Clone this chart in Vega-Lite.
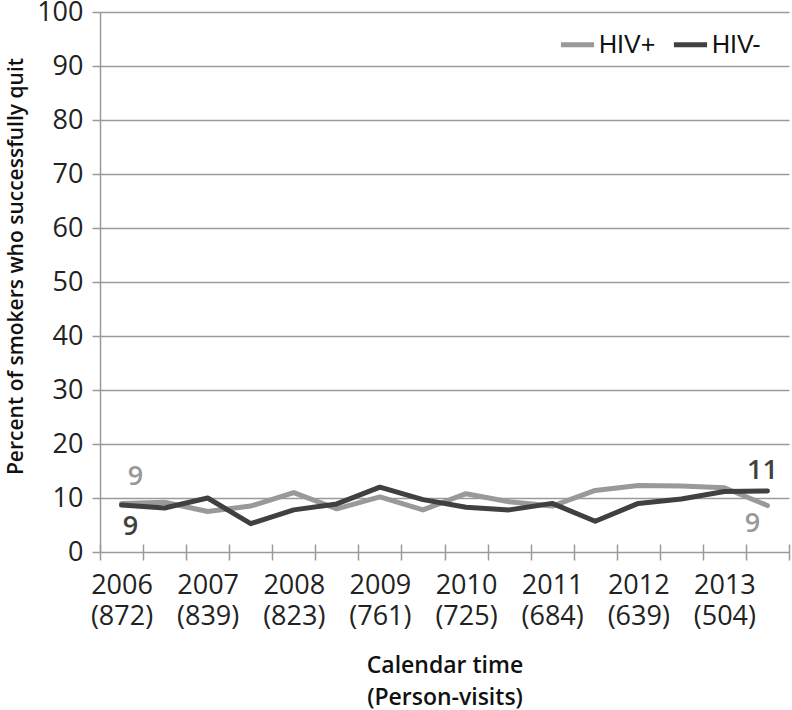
{
  "$schema": "https://vega.github.io/schema/vega-lite/v6.json",
  "width": 689,
  "height": 540,
  "autosize": {"type": "none"},
  "padding": {"left": 100, "top": 12, "right": 3, "bottom": 158},
  "background": "white",
  "config": {"view": {"stroke": null}, "font": "Open Sans"},
  "data": {
    "values": [
      {"time": 2006.25, "group": "HIV+", "pct": 9.0},
      {"time": 2006.75, "group": "HIV+", "pct": 9.2},
      {"time": 2007.25, "group": "HIV+", "pct": 7.5},
      {"time": 2007.75, "group": "HIV+", "pct": 8.5},
      {"time": 2008.25, "group": "HIV+", "pct": 11.0},
      {"time": 2008.75, "group": "HIV+", "pct": 8.0},
      {"time": 2009.25, "group": "HIV+", "pct": 10.2},
      {"time": 2009.75, "group": "HIV+", "pct": 7.8},
      {"time": 2010.25, "group": "HIV+", "pct": 10.8},
      {"time": 2010.75, "group": "HIV+", "pct": 9.3},
      {"time": 2011.25, "group": "HIV+", "pct": 8.5},
      {"time": 2011.75, "group": "HIV+", "pct": 11.4},
      {"time": 2012.25, "group": "HIV+", "pct": 12.3},
      {"time": 2012.75, "group": "HIV+", "pct": 12.2},
      {"time": 2013.25, "group": "HIV+", "pct": 11.9},
      {"time": 2013.75, "group": "HIV+", "pct": 8.6},
      {"time": 2006.25, "group": "HIV-", "pct": 8.7},
      {"time": 2006.75, "group": "HIV-", "pct": 8.15},
      {"time": 2007.25, "group": "HIV-", "pct": 10.0},
      {"time": 2007.75, "group": "HIV-", "pct": 5.25},
      {"time": 2008.25, "group": "HIV-", "pct": 7.8},
      {"time": 2008.75, "group": "HIV-", "pct": 8.9},
      {"time": 2009.25, "group": "HIV-", "pct": 12.0},
      {"time": 2009.75, "group": "HIV-", "pct": 9.7},
      {"time": 2010.25, "group": "HIV-", "pct": 8.3},
      {"time": 2010.75, "group": "HIV-", "pct": 7.8},
      {"time": 2011.25, "group": "HIV-", "pct": 9.0},
      {"time": 2011.75, "group": "HIV-", "pct": 5.7},
      {"time": 2012.25, "group": "HIV-", "pct": 9.0},
      {"time": 2012.75, "group": "HIV-", "pct": 9.8},
      {"time": 2013.25, "group": "HIV-", "pct": 11.2},
      {"time": 2013.75, "group": "HIV-", "pct": 11.3}
    ]
  },
  "resolve": {"axis": {"x": "independent", "y": "independent"}},
  "layer": [
    {
      "mark": {"type": "line", "strokeWidth": 5, "strokeCap": "round", "strokeJoin": "round"},
      "encoding": {
        "x": {
          "field": "time", "type": "quantitative",
          "scale": {"domain": [2006, 2014], "nice": false, "zero": false},
          "axis": {
            "orient": "bottom",
            "values": [2006, 2006.5, 2007, 2007.5, 2008, 2008.5, 2009, 2009.5, 2010, 2010.5, 2011, 2011.5, 2012, 2012.5, 2013, 2013.5, 2014],
            "labels": false, "domain": false, "grid": false, "title": null,
            "tickSize": 16, "offset": -8, "tickColor": "#9a9a9a", "tickWidth": 1.5
          }
        },
        "y": {
          "field": "pct", "type": "quantitative",
          "scale": {"domain": [0, 100], "nice": false},
          "axis": {
            "values": [0, 10, 20, 30, 40, 50, 60, 70, 80, 90, 100],
            "title": "Percent of smokers who successfully quit",
            "grid": true, "gridColor": "#9a9a9a", "gridWidth": 1.5,
            "domain": true, "domainColor": "#9a9a9a", "domainWidth": 1.5,
            "tickSize": 8, "tickColor": "#9a9a9a", "tickWidth": 1.5,
            "labelFontSize": 27, "labelColor": "#222222", "labelPadding": 9,
            "titleFontSize": 21, "titleFontWeight": 600, "titleColor": "#111111", "titlePadding": 10,
            "titleY": 254
          }
        },
        "color": {
          "field": "group", "type": "nominal",
          "scale": {"domain": ["HIV+", "HIV-"], "range": ["#999999", "#404040"]},
          "legend": {
            "orient": "none", "legendX": 458, "legendY": 13, "direction": "horizontal",
            "title": null, "symbolType": "stroke", "symbolStrokeWidth": 5, "symbolSize": 1100,
            "labelFont": "Liberation Sans", "labelFontSize": 25, "labelColor": "#111111",
            "labelOffset": 2, "columnPadding": 7
          }
        }
      }
    },
    {
      "transform": [{"filter": "datum.time == 2006.25 && datum.group == 'HIV+'"}],
      "mark": {"type": "text", "fontSize": 27, "fontWeight": 600, "color": "#999999", "dx": 14, "dy": -26, "align": "center", "baseline": "middle"},
      "encoding": {
        "x": {
          "field": "time", "type": "quantitative",
          "axis": {
            "orient": "bottom",
            "values": [2006.25, 2007.25, 2008.25, 2009.25, 2010.25, 2011.25, 2012.25, 2013.25],
            "labelExpr": "[toString(floor(datum.value)), ['(872)','(839)','(823)','(761)','(725)','(684)','(639)','(504)'][floor(datum.value) - 2006]]",
            "ticks": false, "tickSize": 0, "domain": false, "grid": false,
            "labelFontSize": 27, "labelColor": "#222222", "labelPadding": 20, "labelLineHeight": 31,
            "title": ["Calendar time", "(Person-visits)"],
            "titleFontSize": 23, "titleFontWeight": 600, "titleColor": "#111111", "titleLineHeight": 32, "titlePadding": 25
          }
        },
        "y": {"field": "pct", "type": "quantitative", "axis": null},
        "text": {"field": "pct", "type": "quantitative", "format": ".0f"}
      }
    },
    {
      "transform": [{"filter": "datum.time == 2006.25 && datum.group == 'HIV-'"}],
      "mark": {"type": "text", "fontSize": 27, "fontWeight": 600, "color": "#404040", "dx": 9, "dy": 22, "align": "center", "baseline": "middle"},
      "encoding": {
        "x": {"field": "time", "type": "quantitative", "axis": null},
        "y": {"field": "pct", "type": "quantitative", "axis": null},
        "text": {"field": "pct", "type": "quantitative", "format": ".0f"}
      }
    },
    {
      "transform": [{"filter": "datum.time == 2013.75 && datum.group == 'HIV-'"}],
      "mark": {"type": "text", "fontSize": 27, "fontWeight": 600, "color": "#404040", "dx": -5, "dy": -20, "align": "center", "baseline": "middle"},
      "encoding": {
        "x": {"field": "time", "type": "quantitative", "axis": null},
        "y": {"field": "pct", "type": "quantitative", "axis": null},
        "text": {"field": "pct", "type": "quantitative", "format": ".0f"}
      }
    },
    {
      "transform": [{"filter": "datum.time == 2013.75 && datum.group == 'HIV+'"}],
      "mark": {"type": "text", "fontSize": 27, "fontWeight": 600, "color": "#999999", "dx": -15, "dy": 18, "align": "center", "baseline": "middle"},
      "encoding": {
        "x": {"field": "time", "type": "quantitative", "axis": null},
        "y": {"field": "pct", "type": "quantitative", "axis": null},
        "text": {"field": "pct", "type": "quantitative", "format": ".0f"}
      }
    }
  ]
}
